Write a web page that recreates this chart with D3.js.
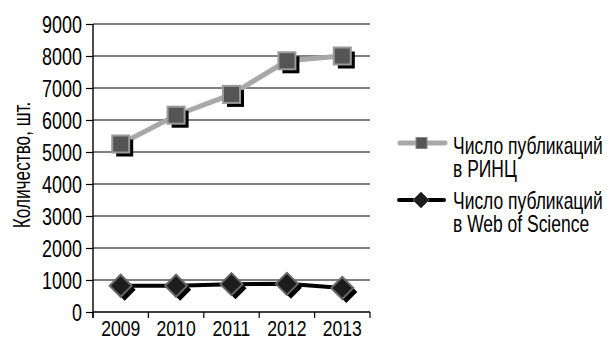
<!DOCTYPE html>
<html>
<head>
<meta charset="utf-8">
<script src="https://cdn.jsdelivr.net/npm/d3@7"></script>
<style>
  html, body { margin: 0; padding: 0; background: #fff; }
  svg { display: block; }
  text { font-family: "Liberation Sans", Arial, sans-serif; fill: #000; }
</style>
</head>
<body>
<svg id="chart" width="607" height="340"></svg>
<script>
// Publications per year
const years = ["2009", "2010", "2011", "2012", "2013"];
const rincValues = [5250, 6150, 6800, 7850, 8000];
const wosValues = [820, 820, 870, 880, 750];
const yTicks = [0, 1000, 2000, 3000, 4000, 5000, 6000, 7000, 8000, 9000];
const seriesNames = [["Число публикаций", "в РИНЦ"], ["Число публикаций", "в Web of Science"]];
const yTitle = "Количество, шт.";

const svg = d3.select("#chart");
const plotLeft = 93, plotRight = 370, plotTop = 24, plotBottom = 312;
const narrow = 0.78;   // horizontal squeeze giving a condensed face
const fs = 23;

const x = d3.scaleBand().domain(years).range([plotLeft, plotRight]);
const y = d3.scaleLinear().domain([0, 9000]).range([plotBottom, plotTop]);

// horizontal gridlines
svg.append("g").selectAll("line").data(yTicks.slice(1)).join("line")
  .attr("x1", plotLeft).attr("x2", plotRight)
  .attr("y1", d => y(d)).attr("y2", d => y(d))
  .attr("stroke", "#000").attr("stroke-width", 1.2);

// y axis
const yAxis = svg.append("g").attr("transform", `translate(${plotLeft},0)`)
  .call(d3.axisLeft(y).tickValues(yTicks).tickFormat(d3.format("d")).tickSize(7).tickSizeOuter(0).tickPadding(4));
yAxis.select(".domain").remove();
yAxis.append("line").attr("x1", 0).attr("x2", 0).attr("y1", plotTop).attr("y2", plotBottom + 6)
  .attr("stroke", "#000").attr("stroke-width", 1.4);
yAxis.selectAll(".tick line").attr("stroke", "#000").attr("stroke-width", 1.2);
yAxis.selectAll(".tick text")
  .attr("x", null).attr("dy", "0.36em")
  .attr("transform", `translate(-11,0) scale(${narrow},1)`)
  .attr("font-size", fs).attr("fill", "#000")
  .attr("font-family", "'Liberation Sans', Arial, sans-serif");

// x axis: ticks on category boundaries
const xAxis = svg.append("g").attr("transform", `translate(0,${plotBottom})`);
xAxis.append("line").attr("x1", plotLeft).attr("x2", plotRight).attr("y1", 0).attr("y2", 0)
  .attr("stroke", "#000").attr("stroke-width", 1.4);
const bounds = years.map(d => x(d)).concat([x(years[years.length - 1]) + x.bandwidth()]);
xAxis.selectAll("line.tk").data(bounds).join("line").attr("class", "tk")
  .attr("x1", d => d).attr("x2", d => d).attr("y1", 0).attr("y2", 6)
  .attr("stroke", "#000").attr("stroke-width", 1.2);
xAxis.selectAll("text").data(years).join("text")
  .attr("transform", d => `translate(${x(d) + x.bandwidth() / 2},23.5) scale(0.8,1)`)
  .attr("text-anchor", "middle").attr("font-size", 22).text(d => d);

// y title
svg.append("text").attr("transform", `translate(30,165) rotate(-90) scale(0.75,1)`)
  .attr("text-anchor", "middle").attr("font-size", 23).text(yTitle);

const cx = d => x(d) + x.bandwidth() / 2;
const sq = 17, dg = 11, sh = 4;

// RINC series
const rinc = years.map((d, i) => ({ year: d, v: rincValues[i] }));
svg.append("path").datum(rinc)
  .attr("d", d3.line().x(d => cx(d.year)).y(d => y(d.v)))
  .attr("fill", "none").attr("stroke", "#a8a8a8").attr("stroke-width", 5);
const gR = svg.append("g");
gR.selectAll("rect.sh").data(rinc).join("rect").attr("class", "sh")
  .attr("x", d => cx(d.year) - sq / 2 + sh).attr("y", d => y(d.v) - sq / 2 + sh)
  .attr("width", sq).attr("height", sq).attr("fill", "#000");
gR.selectAll("rect.mk").data(rinc).join("rect").attr("class", "mk")
  .attr("x", d => cx(d.year) - sq / 2).attr("y", d => y(d.v) - sq / 2)
  .attr("width", sq).attr("height", sq).attr("fill", "#555")
  .attr("stroke", "#9a9a9a").attr("stroke-width", 2);

// Web of Science series
const wos = years.map((d, i) => ({ year: d, v: wosValues[i] }));
svg.append("path").datum(wos)
  .attr("d", d3.line().x(d => cx(d.year)).y(d => y(d.v)))
  .attr("fill", "none").attr("stroke", "#000").attr("stroke-width", 4);
const diamond = (px, py, r) => `M${px},${py - r}L${px + r},${py}L${px},${py + r}L${px - r},${py}Z`;
const gW = svg.append("g");
gW.selectAll("path.sh").data(wos).join("path").attr("class", "sh")
  .attr("d", d => diamond(cx(d.year) + sh, y(d.v) + sh, dg)).attr("fill", "#000");
gW.selectAll("path.mk").data(wos).join("path").attr("class", "mk")
  .attr("d", d => diamond(cx(d.year), y(d.v), dg)).attr("fill", "#1c1c1c")
  .attr("stroke", "#666").attr("stroke-width", 2);

// legend
const lg = svg.append("g");
lg.append("line").attr("x1", 400).attr("x2", 445).attr("y1", 143).attr("y2", 143)
  .attr("stroke", "#a8a8a8").attr("stroke-width", 5).attr("stroke-linecap", "round");
lg.append("rect").attr("x", 416).attr("y", 137.5).attr("width", 11).attr("height", 11)
  .attr("fill", "#555").attr("stroke", "#8a8a8a").attr("stroke-width", 1);
lg.append("line").attr("x1", 399).attr("x2", 444).attr("y1", 200).attr("y2", 200)
  .attr("stroke", "#000").attr("stroke-width", 4).attr("stroke-linecap", "round");
lg.append("path").attr("d", diamond(421, 200, 8)).attr("fill", "#1c1c1c")
  .attr("stroke", "#555").attr("stroke-width", 1);
const legendY = [154, 209];
seriesNames.forEach((lines, i) => {
  const t = lg.append("text")
    .attr("transform", `translate(453,${legendY[i]}) scale(0.76,1)`)
    .attr("font-size", 23);
  lines.forEach((s, j) => t.append("tspan").attr("x", 0).attr("y", j * 23).text(s));
});
</script>
</body>
</html>
